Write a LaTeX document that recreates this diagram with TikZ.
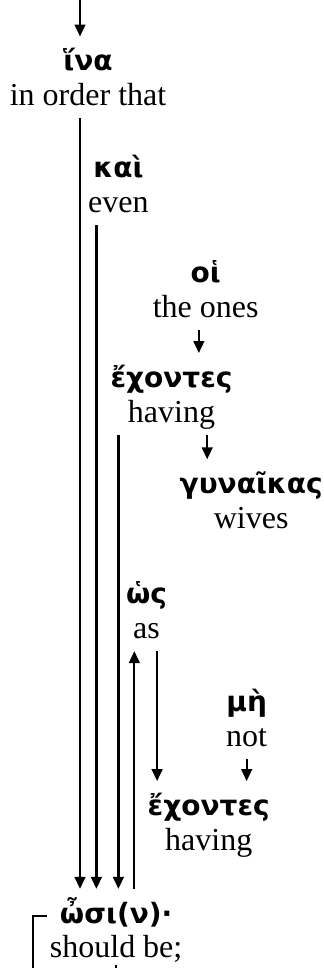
\documentclass[tikz,border=0pt]{standalone}
\usepackage{fontspec}
\setmainfont{Liberation Serif}
\newfontfamily\grk{DejaVu Sans}
\usepackage{tikz}
\usetikzlibrary{positioning, calc, arrows.meta}

\newcommand{\grkword}[1]{\rule{0pt}{12pt}{\grk\bfseries\fontsize{10.5}{13.1}\selectfont #1}}

\begin{document}
\begin{tikzpicture}[
word/.style={align=center, inner xsep=1pt, inner ysep=0.6pt, font=\fontsize{12}{13.1}\selectfont},
link/.style={-{Triangle[length=4.5pt, width=4pt]}, line width=0.85pt},
wire/.style={line width=0.85pt},
]
\useasboundingbox (0,0) rectangle (4.257,-12.754);

%Nodes
\node [word] (hina) at (1.16,-1.02) {\grkword{ἵνα}\\in order that\strut};
\node [word, xshift=0.40cm, yshift=-1.41cm] (kai) at (hina) {\grkword{καὶ}\\even\strut};
\node [word, xshift=1.15cm, yshift=-1.38cm] (hoi) at (kai) {\grkword{οἱ}\\the ones\strut};
\node [word, xshift=-0.45cm, yshift=-1.38cm] (echontes) at (hoi) {\grkword{ἔχοντες}\\having\strut};
\node [word, xshift=1.05cm, yshift=-1.40cm] (gynaikas) at (echontes) {\grkword{γυναῖκας}\\wives\strut};
\node [word, xshift=-0.33cm, yshift=-2.85cm] (hos) at (echontes) {\grkword{ὡς}\\as\strut};
\node [word, xshift=1.32cm, yshift=-1.42cm] (me) at (hos) {\grkword{μὴ}\\not\strut};
\node [word, xshift=-0.50cm, yshift=-1.37cm] (echontes2) at (me) {\grkword{ἔχοντες}\\having\strut};
\node [word, xshift=0.37cm, yshift=-11.23cm] (osin) at (hina) {\grkword{ὦσι(ν)·}\\should be;\strut};

\coordinate (top) at (1.054,0.1);
\coordinate (below) at (0.435,-13);

% Paths
\draw [link] (top) -- (top |- hina.north);
\draw [link] (hina.south -| top) -- (top |- osin.north);
\draw [link] ([xshift=-0.29cm]kai.south) -- ([xshift=-0.29cm]kai.south |- osin.north);
\draw [link] ([xshift=-0.09cm]hoi.south) -- ([xshift=-0.09cm]hoi.south |- echontes.north);
\draw [link] ([xshift=-0.70cm]echontes.south) -- ([xshift=-0.70cm]echontes.south |- osin.north);
\draw [link] ([xshift=0.47cm]echontes.south) -- ([xshift=0.47cm]echontes.south |- gynaikas.north);
\draw [link] ([xshift=-0.16cm]hos.south |- osin.north) -- ([xshift=-0.16cm]hos.south);
\draw [link] ([xshift=0.14cm]hos.south) -- ([xshift=0.14cm]hos.south |- echontes2.north);
\draw [link] (me.south) -- (me.south |- echontes2.north);

\draw [wire] ([yshift=0.18cm]osin.west) -| (below);
\draw [wire] ([yshift=0.08cm]osin.south) -- (osin.south |- below);
\end{tikzpicture}
\end{document}
